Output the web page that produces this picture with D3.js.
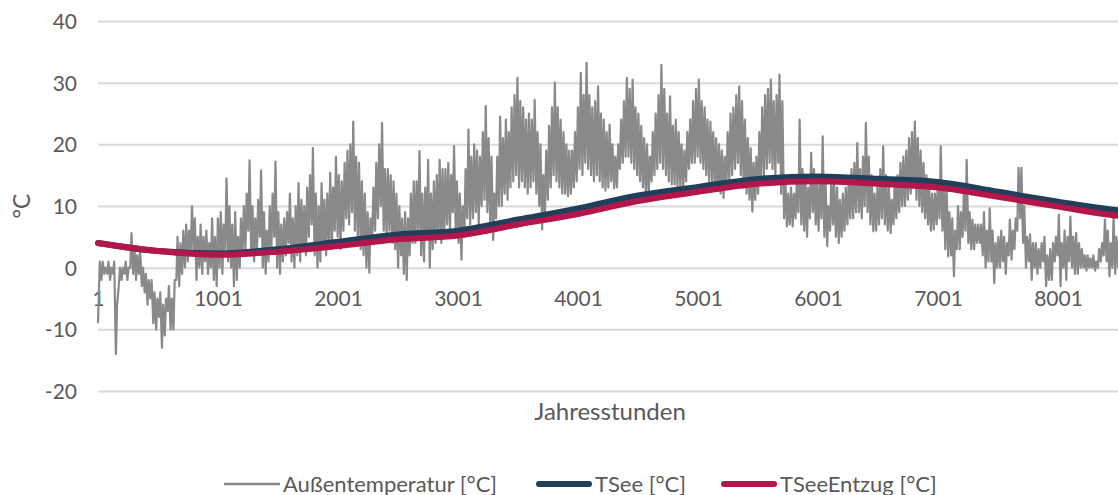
<!DOCTYPE html>
<html>
<head>
<meta charset="utf-8">
<script src="https://cdn.jsdelivr.net/npm/d3@7/dist/d3.min.js"></script>
<style>
	body { margin: 0; background: #fff; }
	text { font-family: Lato, "Noto Sans", sans-serif; fill: #595959; }
</style>
</head>
<body>
<div id="chart"></div>
<script>
// outside temperature, daily minimum and maximum (day 1 .. 365)
var dailyMin = [
	-9, -2, -1, -1, -2, -1, -14, -3, -2, -1,
	-2, 0, -1, -2, -1, -3, -4, -6, -5, -9,
	-10, -8, -13, -11, -7, -10, -10, -2, -3, -1,
	0, 1, 3, 2, -2, 0, -1, 1, -1, 0,
	-2, -3, 0, -1, 3, 1, 0, -3, -2, 0,
	2, 3, 6, 2, 1, 3, 5, 0, -1, 1,
	3, 5, 0, -1, 1, 2, 4, 1, 0, 2,
	1, 3, 2, 5, 7, 2, 0, 1, 3, 2,
	4, 3, 6, 5, 3, 6, 8, 7, 9, 6,
	5, 3, 2, 0, -0.8, 4, 6, 8, 10, 6,
	5, 6, 4, 3, 0, 2, -1, -2, 2, 4,
	4, 6, 2, 1, 5, 0, 3, 4, 5, 4,
	5, 7, 6, 9, 6, 4, 1.3, 5, 8, 7,
	8, 9, 7, 10, 11, 9, 7, 4.5, 8, 10,
	10, 12, 11, 13, 14, 15, 13, 14, 13, 12,
	13, 14, 12, 10, 6.2, 9, 11, 13, 15, 14,
	13, 12, 12, 11.6, 12, 13, 14, 16, 15, 17,
	16, 15, 14, 15, 14, 13, 12.5, 13, 14, 12.9,
	13, 16, 17, 18, 18, 17, 16, 15, 14, 13,
	12, 11.8, 14, 15, 16, 17, 16, 15, 14, 13.5,
	13.5, 13, 13, 12.9, 14, 16, 17, 17, 18, 17,
	16, 15, 14, 14, 13, 12.5, 12, 11.3, 13, 14,
	15, 16, 17, 15, 13, 12, 11, 9.1, 11, 12,
	14, 15, 16, 17, 16, 15, 17, 12, 8, 6.7,
	7, 6.7, 8, 9, 7, 6, 5, 8, 9, 7,
	6, 8, 5, 3.5, 6, 7, 5, 4, 5, 6,
	7, 8, 8, 9, 9, 8, 10, 9, 7, 5.9,
	6, 7, 8, 7, 6, 5.6, 7, 8, 9, 10,
	10, 11, 12, 13, 11, 10, 9, 8, 7, 6,
	6.2, 7, 8, 6, 3, 1.8, 2, -1.4, 3, 3,
	5, 6, 4, 3, 3, 4, 4, 2, 0, 1,
	1, -2.5, 0, 0, 1, -1, 2, 1.3, 3, 6,
	8, 4, 0, 1, -2, 0, -1, 0, 1, -3,
	-2, -2, 1, 2, -3, 0, -2, 1, 0, -1,
	-1, 0, 0, -0.5, 0, 0, -0.5, 0, 1, 2,
	1, -1.4, 0, -1, 0, 0, -2, 0, 1, -1, 0, 1, -1, 0, 0
];
var dailyMax = [
	1, 1, 0, 1, 0, 1, -6, 0, 0, 1,
	0, 5.6, 3.5, 2, 3, 0, -1, -2, -2, -4,
	-5, -4, -6, -5, -3, -5, -2, 5, 4, 6,
	7, 6, 10, 8, 5, 7, 5, 6, 4, 8,
	5, 8, 9, 7, 14.5, 10, 7, 9, 5, 8,
	10, 12, 17.4, 10, 8, 11, 15.8, 9, 6, 10,
	12, 17.2, 9, 7, 8, 9, 12, 8, 10, 13.7,
	11, 10, 13, 15, 19.4, 12, 10, 13.7, 11, 12,
	15.4, 13, 18, 15, 14, 17, 19, 20, 23.7, 18,
	17, 14, 12, 9, 8, 13, 17, 20, 23.5, 16,
	16, 15, 14, 12, 10, 8, 9, 8, 12, 14,
	14, 18.9, 12, 13, 17.5, 12, 14, 15, 17.5, 16,
	16, 17, 15, 19.7, 14, 12, 10, 16, 22.4, 18,
	20, 19, 18, 22, 26.2, 21, 18, 12, 18, 24.5,
	21, 24, 22, 26, 28, 30.8, 27, 26, 24, 25,
	24, 27.2, 22, 20, 15, 19, 23, 26, 30, 26,
	24, 22, 20, 19, 19, 22, 26, 31.6, 28, 33.2,
	28, 26, 27, 29.4, 25, 24, 22, 23.2, 20, 18,
	20, 24, 27, 30.8, 29, 30.5, 26, 25, 23, 21,
	20, 18, 22, 25, 28, 32.9, 29, 25, 27.8, 23,
	24, 22, 20, 19, 22, 24, 27, 29, 30.5, 27,
	26, 24, 23.7, 22, 21, 20, 19, 18, 22, 25,
	26, 28, 29.4, 27, 24, 21, 19.4, 17, 18, 22,
	26, 28, 29, 30.5, 27, 28, 31.3, 27, 14.8, 12,
	13, 12, 14, 24, 16, 15, 13, 18.6, 16, 14,
	15, 21.3, 14, 10, 15, 14, 13, 11, 12, 13,
	14, 16, 17, 20.2, 16, 18, 23.5, 18, 15, 12,
	13, 16, 19.7, 15, 13, 11, 14, 15, 17, 18,
	19, 21, 22, 23.7, 21, 19, 17, 15, 13, 12,
	12, 14, 19.7, 14, 13.7, 9, 8, 6, 10, 9,
	12, 17.5, 9, 7.8, 7, 7, 7, 9, 6, 9.6,
	6, 4, 5, 6, 5, 4, 7.8, 6, 8, 16.2,
	16.2, 10, 5, 5.4, 4, 4, 3, 4, 5, 2,
	3, 4, 5, 8.6, 4, 6, 5, 8.3, 5, 5.6,
	4, 3, 2, 2, 1.5, 2, 1, 3, 4, 7.8,
	6, 4, 8.3, 5, 6, 5, 4, 4, 6, 3, 5, 6, 3, 4, 4
];
var minHour = 5;    // hour of day of the minimum
var maxHour = 15;   // hour of day of the maximum

// lake temperatures
var lakeHours = [1, 501, 1001, 1501, 2001, 2501, 3001, 3501, 4001, 4501, 5001, 5501, 6001, 6501, 7001, 7501, 8001, 8501, 8760];
var tSee = [4.0, 2.7, 2.3, 3.0, 4.2, 5.4, 6.0, 7.8, 9.6, 11.7, 13.1, 14.4, 14.8, 14.4, 13.9, 12.3, 10.7, 9.3, 8.9];
var tSeeEntzug = [4.0, 2.7, 2.1, 2.6, 3.5, 4.6, 5.2, 7.0, 8.7, 10.8, 12.3, 13.6, 14.0, 13.6, 13.0, 11.5, 9.9, 8.4, 8.0];

var xTickLabels = [1, 1001, 2001, 3001, 4001, 5001, 6001, 7001, 8001];
var yTicks = [-20, -10, 0, 10, 20, 30, 40];

var seriesNames = ['Außentemperatur [°C]', 'TSee [°C]', 'TSeeEntzug [°C]'];
var colors = ['#898989', '#203f5b', '#b2164a'];

var width = 1118;
var height = 495;
var margin = { 'top': 21, 'left': 98 };
var plotBottom = 391;
var hourWidth = 0.12;   // px per hour

var svg = d3.select('#chart').append('svg')
	.attr('width', width)
	.attr('height', height);

var x = d3.scaleLinear()
	.domain([1, 8760])
	.range([margin.left, margin.left + 8759 * hourWidth]);
var y = d3.scaleLinear()
	.domain([-20, 40])
	.range([plotBottom, margin.top]);

// gridlines + y labels (plain hyphen for negatives, like the original)
var yAxis = d3.axisLeft(y)
	.tickValues(yTicks)
	.tickSize(-(x.range()[1] - margin.left))
	.tickPadding(21)
	.tickFormat(function(d) { return String(d); });
var gy = svg.append('g')
	.attr('transform', 'translate(' + margin.left + ',0)')
	.call(yAxis);
gy.select('.domain').remove();
gy.selectAll('line').attr('stroke', '#d9d9d9').attr('stroke-width', 2);
gy.selectAll('text')
	.attr('font-size', 21)
	.attr('dy', '0.35em')
	.style('font-family', 'Lato, sans-serif')
	.attr('fill', '#595959');

// x labels sit under the zero line
var xAxis = d3.axisBottom(x)
	.tickValues(xTickLabels)
	.tickSize(0)
	.tickFormat(d3.format('d'));
var gx = svg.append('g')
	.attr('transform', 'translate(0,' + y(0) + ')')
	.call(xAxis);
gx.select('.domain').remove();
gx.selectAll('text')
	.attr('font-size', 21)
	.attr('y', 38.5)
	.attr('dy', 0)
	.style('font-family', 'Lato, sans-serif')
	.attr('fill', '#595959');

// outside temperature: min then max for every day
var outdoor = [];
dailyMin.forEach(function(lo, i) {
	outdoor.push({ 'hour': 1 + i * 24 + minHour, 'value': lo });
	outdoor.push({ 'hour': 1 + i * 24 + maxHour, 'value': dailyMax[i] });
});
outdoor[0].hour = 1;

var outdoorLine = d3.line()
	.x(function(d) { return x(d.hour); })
	.y(function(d) { return y(d.value); });

svg.append('path')
	.datum(outdoor)
	.attr('d', outdoorLine)
	.attr('fill', 'none')
	.attr('stroke', colors[0])
	.attr('stroke-width', 2.2)
	.attr('stroke-linejoin', 'round');

var lakeLine = d3.line()
	.x(function(d, i) { return x(lakeHours[i]); })
	.y(function(d) { return y(d); })
	.curve(d3.curveMonotoneX);

[tSee, tSeeEntzug].forEach(function(s, k) {
	svg.append('path')
		.datum(s)
		.attr('d', lakeLine)
		.attr('fill', 'none')
		.attr('stroke', colors[k + 1])
		.attr('stroke-width', 6)
		.attr('stroke-linecap', 'round');
});

// axis titles
svg.append('text')
	.attr('x', 610)
	.attr('y', 420)
	.attr('text-anchor', 'middle')
	.attr('font-size', 24)
	.text('Jahresstunden');

svg.append('text')
	.attr('transform', 'translate(30,206) rotate(-90)')
	.attr('text-anchor', 'middle')
	.attr('font-size', 23)
	.text('°C');

// legend
var legendX = [224, 536, 721];
var legend = svg.append('g');
seriesNames.forEach(function(name, k) {
	legend.append('line')
		.attr('x1', legendX[k] + (k == 0 ? 0 : 3))
		.attr('x2', legendX[k] + 56 - (k == 0 ? 0 : 3))
		.attr('y1', 484)
		.attr('y2', 484)
		.attr('stroke', colors[k])
		.attr('stroke-width', k == 0 ? 2.5 : 6)
		.attr('stroke-linecap', k == 0 ? 'butt' : 'round');
	legend.append('text')
		.attr('x', legendX[k] + 59)
		.attr('y', 491.5)
		.attr('font-size', 22)
		.text(name);
});
</script>
</body>
</html>
